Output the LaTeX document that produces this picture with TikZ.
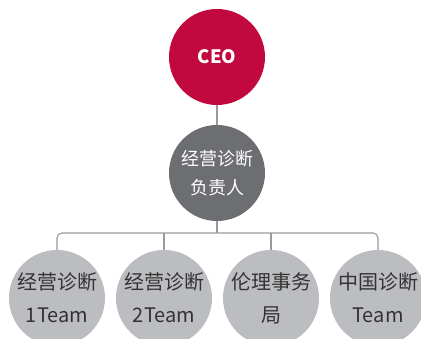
\documentclass[tikz,border=0pt]{standalone}
\usepackage{fontspec}
\usepackage{xcolor}
\usepackage{tikz}
\usetikzlibrary{positioning, calc}
\setmainfont{Noto Sans CJK SC}
\definecolor{cceo}{HTML}{C1093F}
\definecolor{chead}{HTML}{6D6E71}
\definecolor{cteam}{HTML}{BCBDC0}
\definecolor{cline}{HTML}{9A9A9A}
\definecolor{t_team}{HTML}{333333}

\begin{document}
\begin{tikzpicture}[
    x=1pt, y=-1pt,
    unit/.style={circle, minimum size=96pt, inner sep=0pt, align=center},
    lead/.style={unit, text=white},
    team/.style={unit, fill=cteam, text=t_team, font=\fontsize{20}{33}\selectfont}
]
\useasboundingbox (0,0) rectangle (421,339);

% Level 1
\node[lead, fill=cceo, font=\fontsize{18.5}{22}\selectfont\bfseries] (ceo) at (217, 57) {CEO};

% Level 2
\node[lead, fill=chead, font=\fontsize{18}{29}\selectfont] (head) at (217, 173) {
    经营诊断\\负责人
};

% Level 3
\node[team] (team1) at (57, 298) {经营诊断\\1Team};
\node[team] (team2) at (164, 298) {经营诊断\\2Team};
\node[team] (ethics) at (271, 298) {伦理事务\\局};
\node[team] (cnteam) at (378, 298) {中国诊断\\Team};

\coordinate (bus) at (217, 233);

% Lines
\begin{scope}[every path/.style={draw=cline, line width=1.1pt}]
    \draw (ceo.south) -- (head.north);
    \draw (head.south) -- (bus);
    \draw[rounded corners=5pt] (team1.north) |- (bus) -| (cnteam.north);
    \draw (team2.north) -- (team2.north |- bus);
    \draw (ethics.north) -- (ethics.north |- bus);
\end{scope}

\end{tikzpicture}
\end{document}
